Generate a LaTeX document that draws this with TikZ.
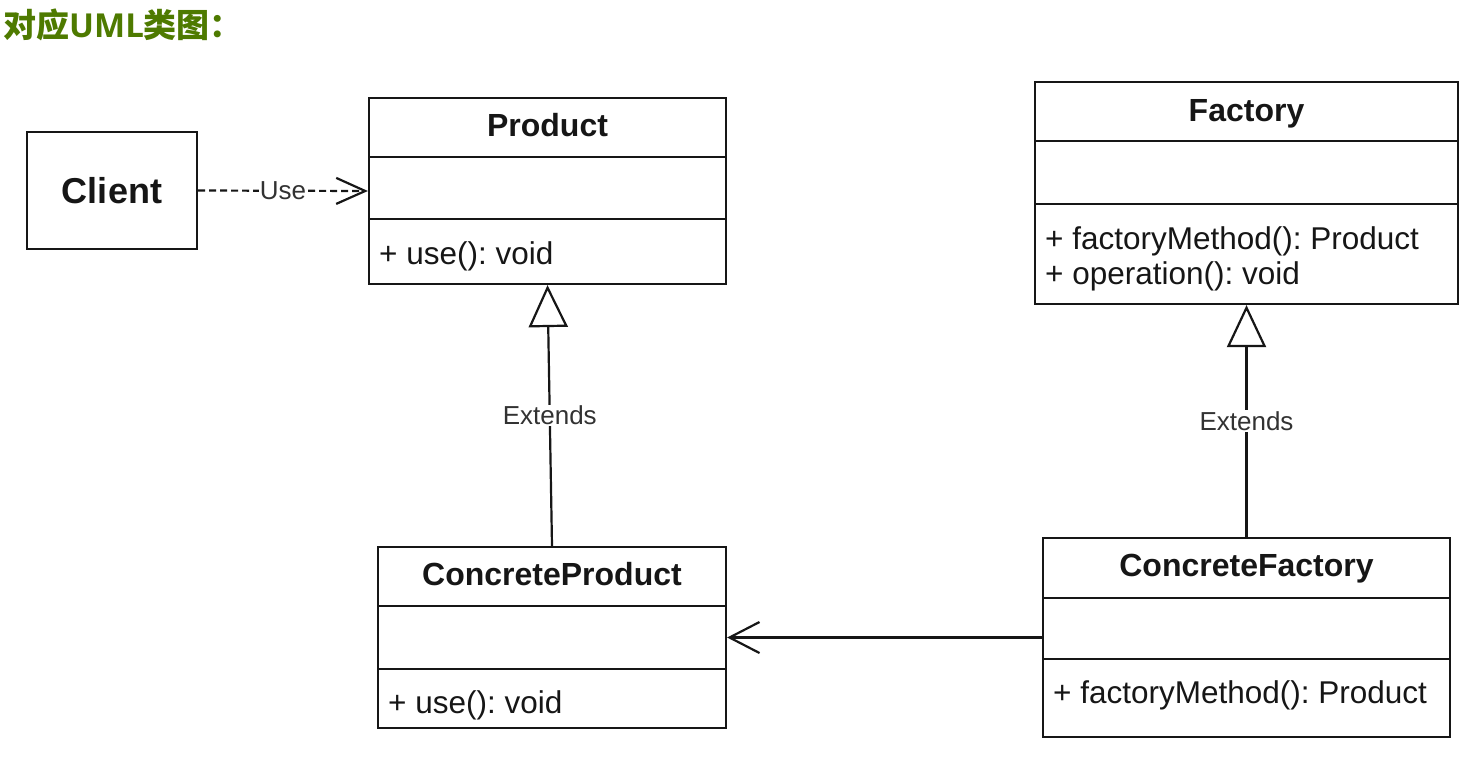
\documentclass[tikz,border=0pt]{standalone}
\usepackage{fontspec}
\setmainfont{Liberation Sans}
\newfontfamily\cjkfont{Noto Sans CJK SC}
\newfontfamily\umlfont{Open Sans}
\usetikzlibrary{arrows.meta}
\definecolor{ttl}{RGB}{78,122,0}
\definecolor{ink}{RGB}{22,22,22}
\definecolor{lbl}{RGB}{50,50,50}
\frenchspacing
\begin{document}
\begin{tikzpicture}[x=1pt,y=-1pt,
  box/.style={draw=ink, line width=2.2pt, rectangle, inner sep=0pt},
  cname/.style={font=\fontsize{32}{38}\selectfont\bfseries, text=ink, anchor=base, inner sep=0pt},
  member/.style={font=\fontsize{31.5}{38}\selectfont, text=ink, anchor=base west, inner sep=0pt},
  rel/.style={font=\fontsize{26}{30}\selectfont, text=lbl, fill=white, inner sep=1pt},
  link/.style={draw=ink, line width=2.2pt},
  divider/.style={draw=ink, line width=2.2pt},
  usearrow/.style={link, dash pattern=on 7pt off 4pt, -{Straight Barb[length=29pt,width=26pt]}},
  assoc/.style={link, -{Straight Barb[length=30pt,width=31pt]}},
  extends/.style={link, -{Triangle[length=42pt,width=39pt,fill=white]}}
]
\useasboundingbox (0,0) rectangle (1483,756);

% title
\node[anchor=base west, inner sep=0pt, text=ttl, font=\fontsize{33}{38}\selectfont] (title) at (3,37.5)
  {{\cjkfont\bfseries 对应}{\umlfont\bfseries UML}{\cjkfont\bfseries 类图：}};

% Client
\node[box, minimum width=170pt, minimum height=117pt, font=\fontsize{36}{40}\selectfont\bfseries, text=ink] (client) at (112,190.5) {Client};

% Product
\node[box, minimum width=357pt, minimum height=186pt] (prod) at (547.5,191) {};
\node[cname] (prodT) at (547.5,136.5) {Product};
\draw[divider] (369,157) -- (726,157);
\draw[divider] (369,219) -- (726,219);
\node[member] (prodM) at (379,264) {+ use(): void};

% ConcreteProduct
\node[box, minimum width=348pt, minimum height=181pt] (cprod) at (552,637.5) {};
\node[cname] (cprodT) at (552,585.5) {ConcreteProduct};
\draw[divider] (378,606) -- (726,606);
\draw[divider] (378,669) -- (726,669);
\node[member] (cprodM) at (388,713) {+ use(): void};

% Factory
\node[box, minimum width=423pt, minimum height=222pt] (fac) at (1246.5,193) {};
\node[cname] (facT) at (1246.5,121.5) {Factory};
\draw[divider] (1035,141) -- (1458,141);
\draw[divider] (1035,204) -- (1458,204);
\node[member] (facM1) at (1045,249) {+ factoryMethod(): Product};
\node[member] (facM2) at (1045,284) {+ operation(): void};

% ConcreteFactory
\node[box, minimum width=407pt, minimum height=199pt] (cfac) at (1246.5,637.5) {};
\node[cname] (cfacT) at (1246.5,576.5) {ConcreteFactory};
\draw[divider] (1043,598) -- (1450,598);
\draw[divider] (1043,659) -- (1450,659);
\node[member] (cfacM) at (1053,703) {+ factoryMethod(): Product};

% relations
\draw[usearrow] (client.east) -- node[rel] (useL) {Use} (prod.west);
\draw[extends] (cprod.north) -- node[rel] (ext1) {Extends} (prod.south);
\draw[extends] (cfac.north) -- node[rel] (ext2) {Extends} (fac.south);
\draw[assoc] (cfac.west) -- (cprod.east);
\end{tikzpicture}
\end{document}
